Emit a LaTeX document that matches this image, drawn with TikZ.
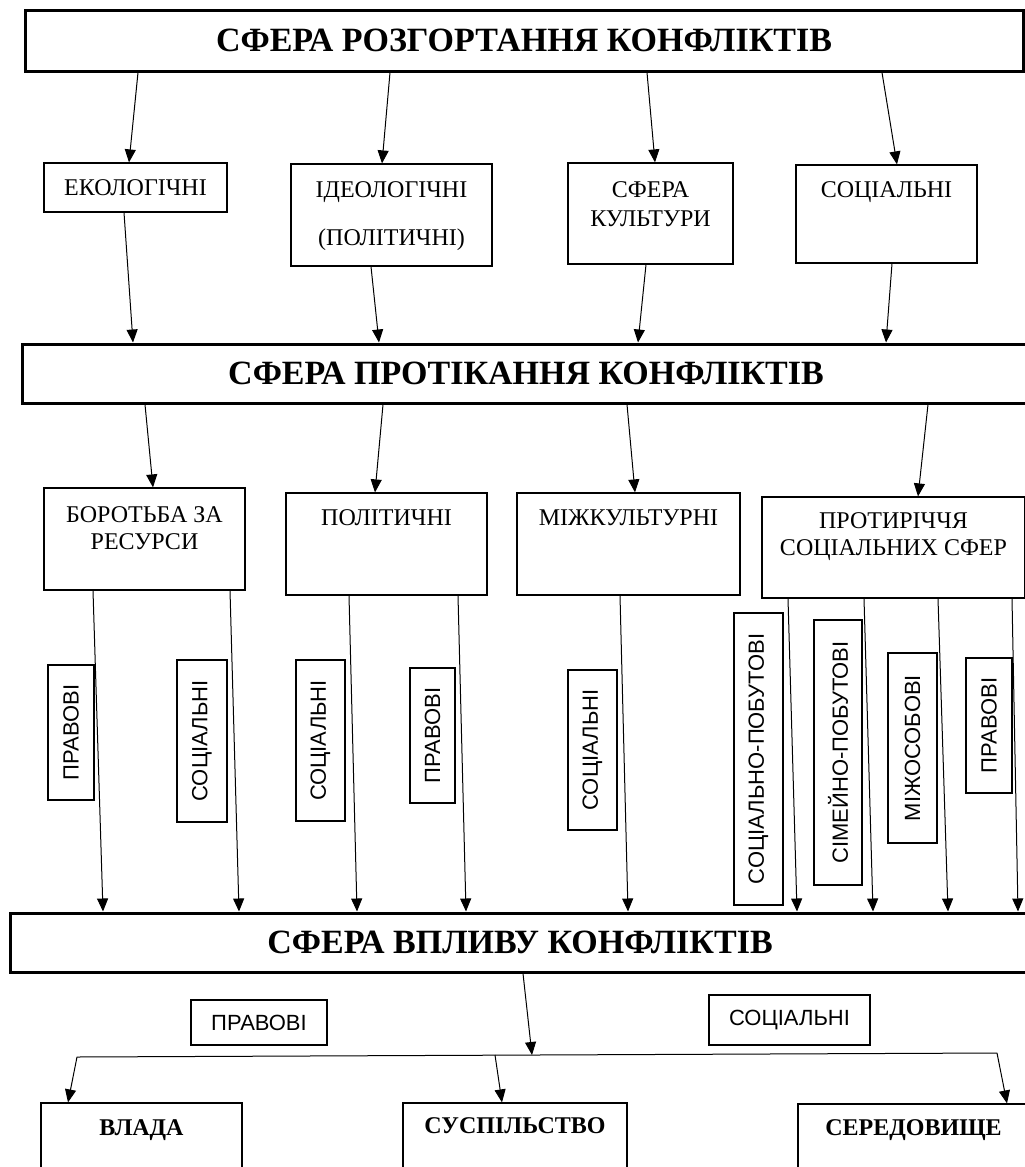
\documentclass[tikz,border=0pt]{standalone}
\usepackage{fontspec}
\setmainfont{Liberation Serif}
\setsansfont{Liberation Sans}
\usepackage{tikz}
\usetikzlibrary{arrows.meta,calc}

\begin{document}
\begin{tikzpicture}[x=1pt,y=-1pt,->,>={Triangle[length=13pt,width=11pt]},line width=1pt,
    band node/.style={rectangle,draw,line width=3pt,inner sep=0pt,font=\fontsize{34pt}{40pt}\selectfont\bfseries},
    sphere node/.style={rectangle,draw,line width=1.2pt,inner sep=0pt,font=\fontsize{24pt}{27pt}\selectfont},
    head/.style={anchor=north,inner sep=0pt,align=center,font=\fontsize{24pt}{27pt}\selectfont},
    result head/.style={head,font=\fontsize{24pt}{28pt}\selectfont\bfseries},
    tag node/.style={rectangle,draw,line width=1.2pt,inner sep=0pt,font=\sffamily\fontsize{22pt}{26pt}\selectfont},
    side tag/.style={tag node,rotate=90}]
    \clip (0,0) rectangle (1025,1167);

    \node[band node,minimum width=998pt,minimum height=61pt] (top) at (524,40.5) {СФЕРА РОЗГОРТАННЯ КОНФЛІКТІВ};
    \node[sphere node,minimum width=183pt,minimum height=49pt] (eco) at (135.5,187.5) {ЕКОЛОГІЧНІ};
    \node[sphere node,minimum width=201pt,minimum height=102pt,label={[head,yshift=-18pt]north:{ІДЕОЛОГІЧНІ\\[21pt](ПОЛІТИЧНІ)}}] (ideo) at (391.5,215) {};
    \node[sphere node,minimum width=165pt,minimum height=101pt,label={[head,yshift=-19pt]north:{СФЕРА\\[2pt]КУЛЬТУРИ}}] (cult) at (650.5,213.5) {};
    \node[sphere node,minimum width=181pt,minimum height=98pt,label={[head,yshift=-17pt]north:СОЦІАЛЬНІ}] (socs) at (886.5,214) {};

    \node[band node,minimum width=1008pt,minimum height=59pt] (mid) at (526,373.5) {СФЕРА ПРОТІКАННЯ КОНФЛІКТІВ};
    \node[sphere node,minimum width=201pt,minimum height=102pt,label={[head,yshift=-19pt]north:{БОРОТЬБА ЗА\\РЕСУРСИ}}] (fight) at (144.5,539) {};
    \node[sphere node,minimum width=201pt,minimum height=102pt,label={[head,yshift=-17pt]north:ПОЛІТИЧНІ}] (pol) at (386.5,544) {};
    \node[sphere node,minimum width=223pt,minimum height=102pt,label={[head,yshift=-17pt]north:МІЖКУЛЬТУРНІ}] (inter) at (628.5,544) {};
    \node[sphere node,minimum width=263pt,minimum height=101pt,label={[head,yshift=-16pt]north:{ПРОТИРІЧЧЯ\\СОЦІАЛЬНИХ СФЕР}}] (contra) at (893.5,547.5) {};

    \node[side tag,minimum width=135pt,minimum height=46pt] (fight law) at (71,732.5) {ПРАВОВІ};
    \node[side tag,minimum width=162pt,minimum height=50pt] (fight soc) at (202,741) {СОЦІАЛЬНІ};
    \node[side tag,minimum width=161pt,minimum height=49pt] (pol soc) at (320.5,740.5) {СОЦІАЛЬНІ};
    \node[side tag,minimum width=135pt,minimum height=45pt] (pol law) at (432.5,735.5) {ПРАВОВІ};
    \node[side tag,minimum width=160pt,minimum height=49pt] (inter soc) at (592.5,750) {СОЦІАЛЬНІ};
    \node[side tag,minimum width=292pt,minimum height=49pt] (everyday) at (758.5,759) {СОЦІАЛЬНО-ПОБУТОВІ};
    \node[side tag,minimum width=265pt,minimum height=48pt] (family) at (838,752.5) {СІМЕЙНО-ПОБУТОВІ};
    \node[side tag,minimum width=190pt,minimum height=49pt] (personal) at (912.5,748) {МІЖОСОБОВІ};
    \node[side tag,minimum width=135pt,minimum height=46pt] (contra law) at (989,725.5) {ПРАВОВІ};

    \node[band node,minimum width=1020pt,minimum height=59pt] (low) at (520,942.5) {СФЕРА ВПЛИВУ КОНФЛІКТІВ};
    \node[tag node,minimum width=136pt,minimum height=45pt] (law) at (259,1022.5) {ПРАВОВІ};
    \node[tag node,minimum width=161pt,minimum height=50pt] (social) at (789.5,1020) {СОЦІАЛЬНІ};
    \node[sphere node,minimum width=201pt,minimum height=100pt,label={[result head,yshift=-17pt]north:ВЛАДА}] (power) at (141.5,1153) {};
    \node[sphere node,minimum width=224pt,minimum height=100pt,label={[result head,yshift=-15pt]north:СУСПІЛЬСТВО}] (society) at (515,1153) {};
    \node[sphere node,minimum width=231pt,minimum height=100pt,label={[result head,yshift=-16pt]north:СЕРЕДОВИЩЕ}] (environment) at (913.5,1154) {};

    \draw ($(eco.north |- top.south)+(2.5,0)$) -- ([xshift=-6.5pt]eco.north);
    \draw ($(ideo.north |- top.south)+(-1.5,0)$) -- ([xshift=-9.5pt]ideo.north);
    \draw ($(cult.north |- top.south)+(-3.5,0)$) -- ([xshift=4.5pt]cult.north);
    \draw ($(socs.north |- top.south)+(-4.5,0)$) -- ([xshift=10.5pt]socs.north);

    \draw ([xshift=-11.5pt]eco.south) -- ($(eco.south |- mid.north)+(-2.5,0)$);
    \draw ([xshift=-20.5pt]ideo.south) -- ($(ideo.south |- mid.north)+(-12.5,0)$);
    \draw ([xshift=-4.5pt]cult.south) -- ($(cult.south |- mid.north)+(-12.5,0)$);
    \draw ([xshift=5.5pt]socs.south) -- ($(socs.south |- mid.north)+(-0.5,0)$);

    \draw ($(fight.north |- mid.south)+(0.5,0)$) -- ([xshift=8.5pt]fight.north);
    \draw ($(pol.north |- mid.south)+(-3.5,0)$) -- ([xshift=-11.5pt]pol.north);
    \draw ($(inter.north |- mid.south)+(-1.5,0)$) -- ([xshift=6.5pt]inter.north);
    \draw ($(contra.north |- mid.south)+(34.5,0)$) -- ([xshift=24.5pt]contra.north);

    \draw ([xshift=-51.5pt]fight.south) -- ($(fight.south |- low.north)+(-41.5,0)$);
    \draw ([xshift=85.5pt]fight.south) -- ($(fight.south |- low.north)+(94.5,0)$);
    \draw ([xshift=-37.5pt]pol.south) -- ($(pol.south |- low.north)+(-29.5,0)$);
    \draw ([xshift=71.5pt]pol.south) -- ($(pol.south |- low.north)+(79.5,0)$);
    \draw ([xshift=-8.5pt]inter.south) -- ($(inter.south |- low.north)+(-0.5,0)$);
    \draw ([xshift=-105.5pt]contra.south) -- ($(contra.south |- low.north)+(-96.5,0)$);
    \draw ([xshift=-29.5pt]contra.south) -- ($(contra.south |- low.north)+(-20.5,0)$);
    \draw ([xshift=44.5pt]contra.south) -- ($(contra.south |- low.north)+(54.5,0)$);
    \draw ([xshift=118.5pt]contra.south) -- ($(contra.south |- low.north)+(124.5,0)$);

    \coordinate (fork west) at (77,1057);
    \coordinate (fork east) at (997,1053);
    \coordinate (fork mid) at (532,1055);
    \coordinate (fork society) at (495,1055);
    \draw[-] (fork west) -- (fork east);
    \draw ([xshift=3pt]low.south) -- (fork mid);
    \draw (fork west) -- ([xshift=-73.5pt]power.north);
    \draw (fork society) -- ([xshift=-13pt]society.north);
    \draw (fork east) -- ([xshift=93.5pt]environment.north);
\end{tikzpicture}
\end{document}
